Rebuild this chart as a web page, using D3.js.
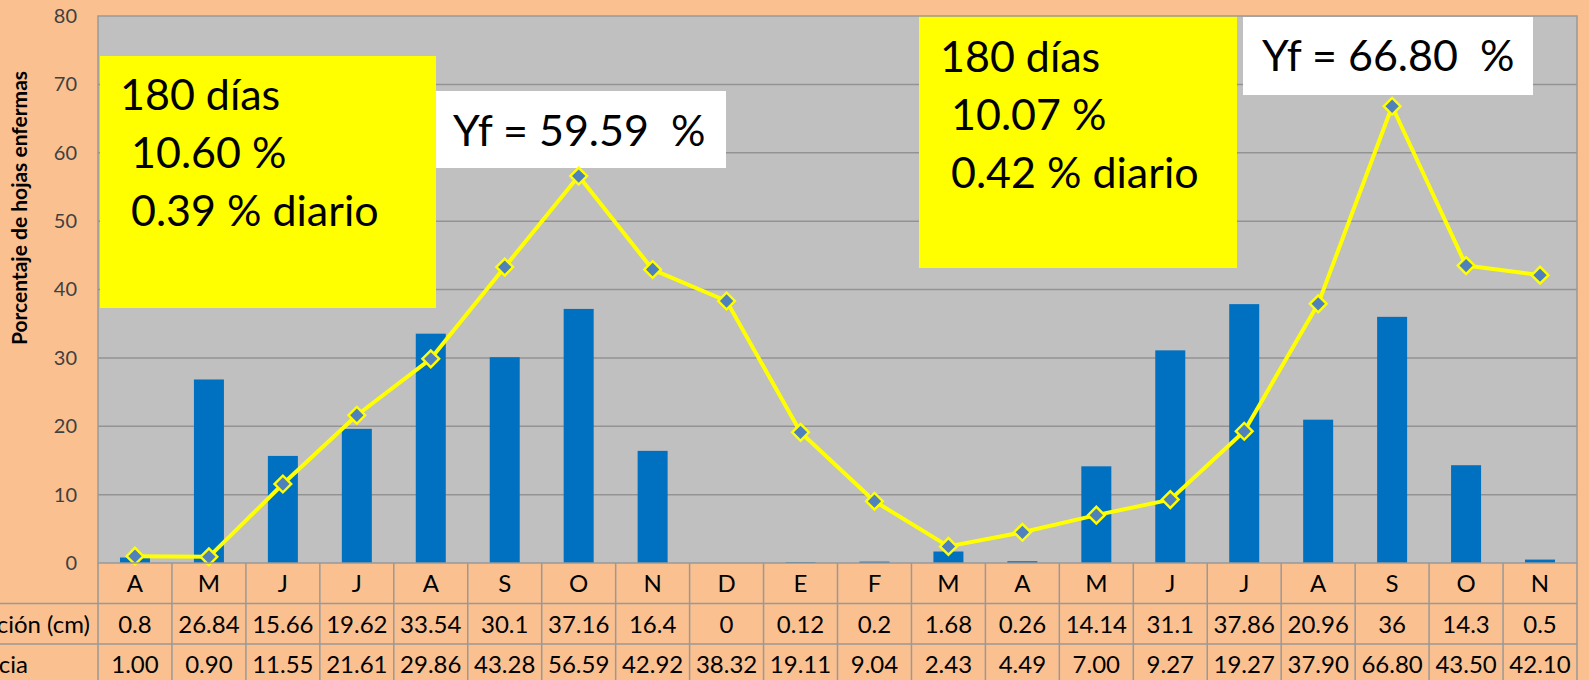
<!DOCTYPE html>
<html>
<head>
<meta charset="utf-8">
<script src="https://cdn.jsdelivr.net/npm/d3@7"></script>
<style>
  body { margin: 0; padding: 0; background: #FAC090; overflow: hidden; }
  svg { display: block; }
</style>
</head>
<body>
<script>
// meses de abril a noviembre del año siguiente
const months = ["A", "M", "J", "J", "A", "S", "O", "N", "D", "E", "F", "M", "A", "M", "J", "J", "A", "S", "O", "N"]
const precipitacion = [0.8, 26.84, 15.66, 19.62, 33.54, 30.1, 37.16, 16.4, 0, 0.12, 0.2, 1.68, 0.26, 14.14, 31.1, 37.86, 20.96, 36, 14.3, 0.5]
const incidencia = [1.00, 0.90, 11.55, 21.61, 29.86, 43.28, 56.59, 42.92, 38.32, 19.11, 9.04, 2.43, 4.49, 7.00, 9.27, 19.27, 37.90, 66.80, 43.50, 42.10]
const yTicks = [0, 10, 20, 30, 40, 50, 60, 70, 80]
const seriesNames = ["Precipitación (cm)", "Incidencia"]

const width = 1589
const height = 680
const font = "Lato, 'Open Sans', sans-serif"

const plot = { left: 98, right: 1577, top: 16, bottom: 563 }
const rowH = 40.5

const svg = d3.select("body").append("svg")
  .attr("width", width)
  .attr("height", height)

svg.append("rect")
  .attr("width", width)
  .attr("height", height)
  .attr("fill", "#FAC090")

const x = d3.scaleBand()
  .domain(d3.range(months.length))
  .range([plot.left, plot.right])

const y = d3.scaleLinear()
  .domain([0, 80])
  .range([plot.bottom, plot.top])

// plot area
svg.append("rect")
  .attr("x", plot.left)
  .attr("y", plot.top)
  .attr("width", plot.right - plot.left)
  .attr("height", plot.bottom - plot.top)
  .attr("fill", "#C0C0C0")

svg.append("g")
  .selectAll("line")
  .data(yTicks.slice(1, -1))
  .join("line")
  .attr("x1", plot.left)
  .attr("x2", plot.right)
  .attr("y1", d => y(d))
  .attr("y2", d => y(d))
  .attr("stroke", "#939393")
  .attr("stroke-width", 1.5)

const yAxis = svg.append("g")
  .attr("transform", `translate(${plot.left},0)`)
  .call(d3.axisLeft(y).tickValues(yTicks).tickSize(0).tickPadding(21))
yAxis.select(".domain").remove()
yAxis.selectAll("text")
  .attr("font-family", font)
  .attr("font-size", 20)
  .attr("fill", "#404040")

svg.append("text")
  .attr("transform", "translate(27,208) rotate(-90)")
  .attr("text-anchor", "middle")
  .attr("font-family", font)
  .attr("font-weight", "bold")
  .attr("font-size", 21)
  .attr("fill", "#000")
  .text("Porcentaje de hojas enfermas")

// barras de precipitación
const barW = 30
svg.append("g")
  .selectAll("rect")
  .data(precipitacion)
  .join("rect")
  .attr("x", (d, i) => x(i) + (x.bandwidth() - barW) / 2)
  .attr("y", d => y(d))
  .attr("width", barW)
  .attr("height", d => y(0) - y(d))
  .attr("fill", "#0070C0")

// annotation boxes
const notes = [
  { x: 100, y: 56, w: 336, h: 252, fill: "#FFFF00", lines: ["180 días", " 10.60 %", " 0.39 % diario"], tx: 120, ty: 110 },
  { x: 436, y: 91, w: 290, h: 77, fill: "#FFFFFF", lines: ["Yf = 59.59  %"], tx: 453, ty: 146 },
  { x: 919, y: 16, w: 318, h: 252, fill: "#FFFF00", lines: ["180 días", " 10.07 %", " 0.42 % diario"], tx: 940, ty: 72 },
  { x: 1243, y: 17, w: 290, h: 78, fill: "#FFFFFF", lines: ["Yf = 66.80  %"], tx: 1262, ty: 71 }
]

const noteG = svg.append("g")
  .selectAll("g")
  .data(notes)
  .join("g")

noteG.append("rect")
  .attr("x", d => d.x)
  .attr("y", d => d.y)
  .attr("width", d => d.w)
  .attr("height", d => d.h)
  .attr("fill", d => d.fill)

noteG.each(function(d) {
  const t = d3.select(this).append("text")
    .attr("font-family", font)
    .attr("font-size", 43)
    .attr("fill", "#000")
    .attr("xml:space", "preserve")
    .style("white-space", "pre")
  d.lines.forEach((ln, k) => {
    t.append("tspan")
      .attr("x", d.tx)
      .attr("y", d.ty + k * 58)
      .text(ln)
  })
})

// línea de incidencia
const line = d3.line()
  .x((d, i) => x(i) + x.bandwidth() / 2)
  .y(d => y(d))

svg.append("path")
  .datum(incidencia)
  .attr("d", line)
  .attr("fill", "none")
  .attr("stroke", "#FFFF00")
  .attr("stroke-width", 4)
  .attr("stroke-linejoin", "round")

svg.append("g")
  .selectAll("path")
  .data(incidencia)
  .join("path")
  .attr("d", d3.symbol(d3.symbolSquare, 140))
  .attr("transform", (d, i) => `translate(${x(i) + x.bandwidth() / 2},${y(d)}) rotate(45)`)
  .attr("fill", "#4F81BD")
  .attr("stroke", "#FFFF00")
  .attr("stroke-width", 2.4)

// plot border
svg.append("rect")
  .attr("x", plot.left)
  .attr("y", plot.top)
  .attr("width", plot.right - plot.left)
  .attr("height", plot.bottom - plot.top)
  .attr("fill", "none")
  .attr("stroke", "#999")
  .attr("stroke-width", 1.5)

// data table
const table = svg.append("g")
const gridColor = "#999"
const rowTops = [plot.bottom, plot.bottom + rowH, plot.bottom + 2 * rowH]

table.selectAll("line.h")
  .data([rowTops[1], rowTops[2]])
  .join("line")
  .attr("class", "h")
  .attr("x1", 0)
  .attr("x2", plot.right)
  .attr("y1", d => d)
  .attr("y2", d => d)
  .attr("stroke", gridColor)
  .attr("stroke-width", 1.5)

table.selectAll("line.v")
  .data(d3.range(months.length + 1))
  .join("line")
  .attr("class", "v")
  .attr("x1", i => i < months.length ? x(i) : plot.right)
  .attr("x2", i => i < months.length ? x(i) : plot.right)
  .attr("y1", plot.bottom)
  .attr("y2", height)
  .attr("stroke", gridColor)
  .attr("stroke-width", 1.5)

const rows = [
  months,
  precipitacion.map(d => String(d)),
  incidencia.map(d => d.toFixed(2))
]

rows.forEach((row, r) => {
  table.append("g")
    .selectAll("text")
    .data(row)
    .join("text")
    .attr("x", (d, i) => x(i) + x.bandwidth() / 2)
    .attr("y", rowTops[r] + 29)
    .attr("text-anchor", "middle")
    .attr("font-family", font)
    .attr("font-size", 24)
    .attr("fill", "#000")
    .text(d => d)
})

// nombres de las series, cortados por el borde izquierdo como en la imagen
const nameEnds = [90, 28]
table.selectAll("text.name")
  .data(seriesNames)
  .join("text")
  .attr("class", "name")
  .attr("x", (d, i) => nameEnds[i])
  .attr("y", (d, i) => rowTops[i + 1] + 29)
  .attr("text-anchor", "end")
  .attr("font-family", font)
  .attr("font-size", 24)
  .attr("fill", "#000")
  .text(d => d)
</script>
</body>
</html>
